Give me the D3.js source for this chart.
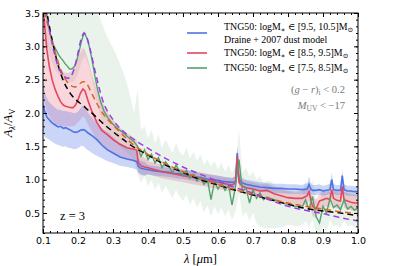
<!DOCTYPE html>
<html lang="en">
<head>
<meta charset="UTF-8">
<title>A_lambda / A_V at z=3</title>
<script src="https://cdn.jsdelivr.net/npm/d3@7/dist/d3.min.js"></script>
<style>
  body { margin: 0; background: #fff; }
  .tick text { font-family: "DejaVu Sans", sans-serif; font-size: 9.5px; fill: #000; }
  .tick line { stroke: #000; stroke-width: 1; }
  .serif { font-family: "Liberation Serif", "DejaVu Serif", serif; }
</style>
</head>
<body>
<svg width="399" height="266" id="mainsvg"></svg>
<script>
// ---- data ----
const xTicks = [0.1, 0.2, 0.3, 0.4, 0.5, 0.6, 0.7, 0.8, 0.9, 1.0];
const yTicks = [0.5, 1.0, 1.5, 2.0, 2.5, 3.0, 3.5];

// shared wavelength grid for the blue and red medians
const lamBR = [0.100, 0.105, 0.111, 0.118, 0.126, 0.135, 0.143, 0.150, 0.158, 0.165,
  0.172, 0.180, 0.186, 0.193, 0.200, 0.207, 0.214, 0.220, 0.229, 0.240,
  0.254, 0.268, 0.283, 0.300, 0.320, 0.340, 0.357, 0.368, 0.372, 0.380, 0.390,
  0.40, 0.42, 0.44, 0.46, 0.48, 0.50, 0.52, 0.54, 0.56, 0.58,
  0.60, 0.62, 0.64, 0.65, 0.655, 0.66, 0.67, 0.68, 0.70, 0.72,
  0.74, 0.76, 0.78, 0.80, 0.82, 0.84, 0.855, 0.86, 0.865, 0.87,
  0.88, 0.89, 0.90, 0.91, 0.92, 0.925, 0.93, 0.94, 0.95, 0.955,
  0.96, 0.97, 0.98, 0.99, 1.00];

// TNG50 logM* in [9.5,10.5]
const blueMid = [2.12, 2.02, 1.94, 1.90, 1.85, 1.82, 1.79, 1.80, 1.77, 1.78,
  1.76, 1.74, 1.72, 1.71, 1.72, 1.74, 1.75, 1.74, 1.70, 1.66,
  1.60, 1.52, 1.45, 1.40, 1.34, 1.31, 1.29, 1.27, 1.20, 1.17, 1.16,
  1.15, 1.13, 1.12, 1.11, 1.09, 1.08, 1.06, 1.04, 1.02, 1.00,
  0.99, 0.97, 0.96, 0.97, 1.40, 1.00, 0.95, 0.93, 0.91, 0.89,
  0.88, 0.87, 0.87, 0.86, 0.86, 0.85, 0.86, 0.93, 0.86, 0.84,
  0.84, 0.85, 0.83, 0.84, 0.85, 1.00, 0.85, 0.84, 0.84, 1.06,
  0.85, 0.83, 0.83, 0.82, 0.82];
const blueLo = [1.70, 1.64, 1.62, 1.60, 1.57, 1.54, 1.52, 1.51, 1.49, 1.50,
  1.48, 1.47, 1.46, 1.46, 1.47, 1.50, 1.51, 1.48, 1.44, 1.40,
  1.36, 1.32, 1.28, 1.25, 1.21, 1.19, 1.17, 1.15, 1.10, 1.07, 1.06,
  1.08, 1.06, 1.05, 1.04, 1.02, 1.01, 0.99, 0.97, 0.95, 0.93,
  0.92, 0.90, 0.89, 0.90, 1.25, 0.92, 0.88, 0.86, 0.84, 0.82,
  0.81, 0.80, 0.80, 0.79, 0.79, 0.78, 0.78, 0.82, 0.78, 0.77,
  0.77, 0.78, 0.76, 0.77, 0.78, 0.90, 0.78, 0.77, 0.77, 0.95,
  0.78, 0.76, 0.76, 0.75, 0.75];
const blueHi = [2.45, 2.32, 2.22, 2.16, 2.12, 2.08, 2.05, 2.05, 2.03, 2.03,
  2.02, 2.01, 2.00, 2.00, 2.02, 2.07, 2.11, 2.08, 2.00, 1.93,
  1.85, 1.78, 1.72, 1.64, 1.55, 1.49, 1.45, 1.42, 1.32, 1.28, 1.27,
  1.22, 1.20, 1.19, 1.18, 1.16, 1.15, 1.13, 1.11, 1.09, 1.07,
  1.06, 1.04, 1.03, 1.05, 1.50, 1.08, 1.02, 1.00, 0.98, 0.96,
  0.95, 0.94, 0.94, 0.93, 0.93, 0.92, 0.95, 1.05, 0.95, 0.92,
  0.92, 0.93, 0.91, 0.92, 0.94, 1.10, 0.93, 0.92, 0.92, 1.15,
  0.93, 0.91, 0.91, 0.90, 0.90];

// TNG50 logM* in [8.5,9.5]
const redMid = [3.60, 3.30, 2.95, 2.70, 2.50, 2.35, 2.25, 2.17, 2.12, 2.10,
  2.09, 2.08, 2.08, 2.12, 2.20, 2.30, 2.36, 2.33, 2.18, 2.02,
  1.86, 1.74, 1.68, 1.60, 1.53, 1.48, 1.46, 1.44, 1.26, 1.21, 1.19,
  1.18, 1.15, 1.12, 1.10, 1.08, 1.06, 1.04, 1.02, 1.00, 0.98,
  0.96, 0.94, 0.92, 0.95, 1.35, 0.96, 0.90, 0.88, 0.86, 0.83,
  0.84, 0.79, 0.76, 0.73, 0.72, 0.72, 0.76, 0.82, 0.70, 0.60,
  0.56, 0.68, 0.70, 0.72, 0.70, 0.85, 0.72, 0.69, 0.68, 0.90,
  0.70, 0.68, 0.66, 0.65, 0.65];
const redLo = [2.30, 2.15, 2.02, 1.95, 1.88, 1.84, 1.82, 1.82, 1.80, 1.80,
  1.80, 1.80, 1.80, 1.82, 1.86, 1.90, 1.95, 1.92, 1.82, 1.72,
  1.60, 1.52, 1.45, 1.40, 1.34, 1.30, 1.28, 1.26, 1.12, 1.08, 1.07,
  1.08, 1.05, 1.02, 1.00, 0.98, 0.96, 0.94, 0.92, 0.90, 0.88,
  0.86, 0.84, 0.82, 0.84, 1.20, 0.86, 0.80, 0.78, 0.76, 0.73,
  0.74, 0.69, 0.66, 0.63, 0.62, 0.61, 0.63, 0.68, 0.58, 0.46,
  0.42, 0.56, 0.58, 0.60, 0.58, 0.72, 0.60, 0.57, 0.56, 0.78,
  0.58, 0.56, 0.54, 0.53, 0.53];
const redHi = [3.70, 3.55, 3.40, 3.20, 3.00, 2.85, 2.75, 2.68, 2.62, 2.60,
  2.60, 2.62, 2.65, 2.72, 2.82, 2.92, 2.98, 2.95, 2.80, 2.58,
  2.35, 2.18, 2.02, 1.90, 1.78, 1.70, 1.64, 1.60, 1.45, 1.36, 1.33,
  1.28, 1.25, 1.22, 1.20, 1.18, 1.16, 1.14, 1.12, 1.10, 1.08,
  1.06, 1.04, 1.02, 1.06, 1.50, 1.06, 1.00, 0.98, 0.96, 0.93,
  0.94, 0.89, 0.86, 0.83, 0.82, 0.83, 0.90, 0.95, 0.82, 0.74,
  0.70, 0.80, 0.82, 0.84, 0.82, 0.98, 0.84, 0.81, 0.80, 1.02,
  0.82, 0.80, 0.78, 0.77, 0.77];

// TNG50 logM* in [7.5,8.5]
const lamG = [0.100, 0.106, 0.112, 0.118, 0.124, 0.130, 0.137, 0.144, 0.150, 0.157,
  0.163, 0.170, 0.176, 0.183, 0.190, 0.196, 0.203, 0.210, 0.2175, 0.225,
  0.232, 0.240, 0.248, 0.256, 0.265, 0.275, 0.285, 0.300, 0.315, 0.330,
  0.345, 0.360,
  0.37, 0.38, 0.39, 0.40, 0.41, 0.42, 0.43, 0.44, 0.45, 0.46,
  0.47, 0.48, 0.49, 0.50, 0.51, 0.52, 0.53, 0.54, 0.55, 0.56,
  0.57, 0.58, 0.59, 0.60, 0.61, 0.62, 0.63, 0.64, 0.65, 0.66,
  0.67, 0.68, 0.69, 0.70, 0.71, 0.72, 0.73, 0.74, 0.75, 0.76,
  0.77, 0.78, 0.79, 0.80, 0.81, 0.82, 0.83, 0.84, 0.85, 0.86,
  0.87, 0.88, 0.89, 0.90, 0.91, 0.92, 0.93, 0.94, 0.95, 0.96,
  0.97, 0.98, 0.99, 1.00];
const greenMid = [3.85, 3.62, 3.42, 3.25, 3.12, 3.02, 2.95, 2.88, 2.83, 2.79,
  2.74, 2.70, 2.66, 2.66, 2.70, 2.78, 2.92, 3.08, 3.20, 3.13,
  3.00, 2.80, 2.56, 2.35, 2.16, 2.02, 1.93, 1.83, 1.76, 1.70,
  1.63, 1.57,
  1.50, 1.35, 1.45, 1.30, 1.38, 1.25, 1.33, 1.18, 1.27, 1.20,
  1.10, 1.22, 1.12, 1.06, 1.14, 1.02, 1.08, 0.98, 1.04, 0.93,
  1.00, 0.70, 0.97, 0.86, 0.95, 0.84, 0.92, 0.62, 0.90, 1.30,
  0.82, 0.88, 0.65, 0.85, 0.72, 0.80, 0.70, 0.74, 0.72, 0.70,
  0.68, 0.66, 0.64, 0.63, 0.62, 0.60, 0.60, 0.58, 0.70, 0.55,
  0.75, 0.45, 0.35, 0.60, 0.50, 0.72, 0.58, 0.62, 0.55, 0.70,
  0.56, 0.60, 0.54, 0.58];
const greenLo = [3.30, 3.15, 3.00, 2.88, 2.78, 2.70, 2.63, 2.58, 2.55, 2.52,
  2.50, 2.48, 2.46, 2.46, 2.48, 2.54, 2.64, 2.76, 2.85, 2.80,
  2.68, 2.50, 2.30, 2.10, 1.93, 1.80, 1.70, 1.60, 1.52, 1.45,
  1.38, 1.30,
  1.10, 0.95, 1.05, 0.90, 1.00, 0.85, 0.95, 0.80, 0.90, 0.82,
  0.72, 0.85, 0.75, 0.68, 0.78, 0.62, 0.72, 0.58, 0.68, 0.50,
  0.62, 0.45, 0.60, 0.48, 0.58, 0.45, 0.55, 0.40, 0.52, 0.80,
  0.45, 0.52, 0.38, 0.50, 0.35, 0.30, 0.28, 0.27, 0.27, 0.27,
  0.28, 0.28, 0.30, 0.32, 0.32, 0.30, 0.30, 0.32, 0.38, 0.28,
  0.40, 0.20, 0.15, 0.30, 0.22, 0.40, 0.30, 0.32, 0.28, 0.38,
  0.30, 0.32, 0.28, 0.30];
const greenHi = [3.90, 3.90, 3.90, 3.90, 3.90, 3.90, 3.90, 3.90, 3.90, 3.90,
  3.90, 3.90, 3.90, 3.90, 3.90, 3.90, 3.90, 3.90, 3.90, 3.90,
  3.90, 3.90, 3.70, 3.50, 3.40, 3.25, 3.12, 2.98, 2.80, 2.60,
  2.35, 2.00,
  2.35, 1.75, 1.80, 1.62, 1.75, 1.55, 1.68, 1.48, 1.60, 1.50,
  1.40, 1.55, 1.42, 1.36, 1.48, 1.32, 1.42, 1.28, 1.38, 1.22,
  1.30, 1.20, 1.28, 1.15, 1.26, 1.12, 1.22, 1.10, 1.20, 1.75,
  1.10, 1.18, 1.05, 1.12, 1.00, 1.05, 0.95, 0.98, 0.98, 0.92,
  0.88, 0.86, 0.84, 0.83, 0.82, 0.80, 0.80, 0.78, 0.98, 0.80,
  1.00, 0.72, 0.62, 0.88, 0.76, 1.00, 0.82, 0.86, 0.80, 0.98,
  0.80, 0.84, 0.78, 0.82];

// model / fit curves
const lamFit = [0.100, 0.110, 0.120, 0.130, 0.140, 0.150, 0.160, 0.170, 0.180, 0.190,
  0.200, 0.2075, 0.2175, 0.225, 0.235, 0.250, 0.270, 0.300, 0.330, 0.350,
  0.400, 0.450, 0.500, 0.550, 0.600, 0.650, 0.700, 0.750, 0.800, 0.850,
  0.900, 0.950, 1.000];
const draine = [3.90, 3.55, 3.25, 3.00, 2.78, 2.60, 2.46, 2.36, 2.28, 2.22,
  2.17, 2.14, 2.10, 2.06, 2.02, 1.95, 1.85, 1.72, 1.60, 1.52,
  1.37, 1.22, 1.11, 1.00, 0.92, 0.84, 0.77, 0.70, 0.63, 0.57,
  0.53, 0.50, 0.46];
const fitRed = [3.60, 3.40, 3.20, 3.00, 2.82, 2.66, 2.54, 2.46, 2.41, 2.39,
  2.41, 2.45, 2.47, 2.44, 2.34, 2.18, 2.00, 1.82, 1.66, 1.56,
  1.38, 1.24, 1.12, 1.02, 0.93, 0.85, 0.78, 0.71, 0.65, 0.60,
  0.56, 0.52, 0.49];
const fitGreen = [3.85, 3.50, 3.20, 2.95, 2.75, 2.62, 2.55, 2.52, 2.55, 2.68,
  2.90, 3.08, 3.20, 3.14, 2.95, 2.60, 2.20, 1.90, 1.72, 1.64,
  1.47, 1.32, 1.19, 1.08, 0.98, 0.88, 0.80, 0.69, 0.60, 0.54,
  0.49, 0.43, 0.38];

const legendLabels = [
  'TNG50: logM∗ ∈ [9.5, 10.5]M⊙',
  'Draine + 2007 dust model',
  'TNG50: logM∗ ∈ [8.5, 9.5]M⊙',
  'TNG50: logM∗ ∈ [7.5, 8.5]M⊙'
];

// ---- layout ----
const svg = d3.select('#mainsvg');
const W = 399, H = 266;
const pLeft = 43, pRight = 358, pTop = 13, pBottom = 233;
const x = d3.scaleLinear().domain([0.1, 1.0]).range([pLeft, pRight]);
const y = d3.scaleLinear().domain([0.2, 3.5]).range([pBottom, pTop]);

const cBlue = '#4f73e3', cRed = '#e4465f', cGreen = '#559f70';

svg.append('clipPath').attr('id', 'plotclip')
  .append('rect')
  .attr('x', pLeft).attr('y', pTop)
  .attr('width', pRight - pLeft).attr('height', pBottom - pTop);

const plot = svg.append('g').attr('clip-path', 'url(#plotclip)');

function band(lam, lo, hi) {
  return d3.area()
    .x((d, i) => x(lam[i]))
    .y0((d, i) => y(lo[i]))
    .y1((d, i) => y(hi[i]))(lam);
}
function curve(lam, v) {
  return d3.line().x((d, i) => x(lam[i])).y((d, i) => y(v[i]))(lam);
}
function smooth(lam, v) {
  return d3.line().curve(d3.curveMonotoneX).x((d, i) => x(lam[i])).y((d, i) => y(v[i]))(lam);
}

// bands
plot.append('path').attr('d', band(lamG, greenLo, greenHi))
  .attr('fill', cGreen).attr('fill-opacity', 0.13);
plot.append('path').attr('d', band(lamBR, redLo, redHi))
  .attr('fill', cRed).attr('fill-opacity', 0.22);
plot.append('path').attr('d', band(lamBR, blueLo, blueHi))
  .attr('fill', cBlue).attr('fill-opacity', 0.3);

// medians
plot.append('path').attr('d', curve(lamBR, blueMid))
  .attr('fill', 'none').attr('stroke', cBlue).attr('stroke-width', 1.6);
plot.append('path').attr('d', curve(lamBR, redMid))
  .attr('fill', 'none').attr('stroke', cRed).attr('stroke-width', 1.6);
plot.append('path').attr('d', curve(lamG, greenMid))
  .attr('fill', 'none').attr('stroke', cGreen).attr('stroke-width', 1.4);

// dashed model curves
plot.append('path').attr('d', smooth(lamFit, draine))
  .attr('fill', 'none').attr('stroke', '#000').attr('stroke-width', 1.5)
  .attr('stroke-dasharray', '6,4');
plot.append('path').attr('d', smooth(lamFit, fitRed))
  .attr('fill', 'none').attr('stroke', '#d8661c').attr('stroke-width', 1.5)
  .attr('stroke-dasharray', '6,4').attr('stroke-dashoffset', 5);
plot.append('path').attr('d', smooth(lamFit, fitGreen))
  .attr('fill', 'none').attr('stroke', '#a03ce6').attr('stroke-width', 1.5)
  .attr('stroke-dasharray', '6,4');

// ---- axes, ticks inward on all sides ----
const xMinor = d3.range(0.1, 1.0001, 0.02);
const yMinor = d3.range(0.2, 3.5001, 0.1);
const fmt = d3.format('.1f');

function addAxis(axis, tx, ty) {
  const g = svg.append('g').attr('transform', `translate(${tx},${ty})`).call(axis);
  g.select('.domain').remove();
  return g;
}
addAxis(d3.axisBottom(x).tickValues(xTicks).tickSize(-4).tickPadding(4).tickFormat(fmt), 0, pBottom);
addAxis(d3.axisBottom(x).tickValues(xMinor).tickSize(-2).tickFormat(''), 0, pBottom);
addAxis(d3.axisTop(x).tickValues(xTicks).tickSize(-4).tickFormat(''), 0, pTop);
addAxis(d3.axisTop(x).tickValues(xMinor).tickSize(-2).tickFormat(''), 0, pTop);
addAxis(d3.axisLeft(y).tickValues(yTicks).tickSize(-4).tickPadding(3).tickFormat(fmt), pLeft, 0);
addAxis(d3.axisLeft(y).tickValues(yMinor).tickSize(-2).tickFormat(''), pLeft, 0);
addAxis(d3.axisRight(y).tickValues(yTicks).tickSize(-4).tickFormat(''), pRight, 0);
addAxis(d3.axisRight(y).tickValues(yMinor).tickSize(-2).tickFormat(''), pRight, 0);

svg.append('rect').attr('x', pLeft).attr('y', pTop)
  .attr('width', pRight - pLeft).attr('height', pBottom - pTop)
  .attr('fill', 'none').attr('stroke', '#000').attr('stroke-width', 1);

// ---- axis titles ----
const xl = svg.append('text').attr('class', 'serif')
  .attr('x', (pLeft + pRight) / 2).attr('y', 263).attr('text-anchor', 'middle')
  .attr('font-size', 12.5);
xl.append('tspan').attr('font-style', 'italic').text('λ');
xl.append('tspan').text(' [');
xl.append('tspan').attr('font-style', 'italic').text('μ');
xl.append('tspan').text('m]');

const yl = svg.append('text').attr('class', 'serif')
  .attr('transform', `translate(12,${(pTop + pBottom) / 2}) rotate(-90)`)
  .attr('text-anchor', 'middle').attr('font-size', 12.5);
yl.append('tspan').attr('font-style', 'italic').text('A');
yl.append('tspan').attr('font-size', 8.5).attr('dy', 3).attr('font-style', 'italic').text('λ');
yl.append('tspan').attr('dy', -3).text('/');
yl.append('tspan').attr('font-style', 'italic').text('A');
yl.append('tspan').attr('font-size', 8.5).attr('dy', 3).text('V');

// ---- legend ----
const legColors = [cBlue, null, cRed, cGreen];
const legLineY = [33, null, 53, 68];
const legTextY = [30, 43, 56, 71];
legendLabels.forEach((lab, i) => {
  if (legColors[i]) {
    svg.append('line').attr('x1', 187).attr('x2', 207)
      .attr('y1', legLineY[i]).attr('y2', legLineY[i])
      .attr('stroke', legColors[i]).attr('stroke-width', 1.6);
  }
  const t = svg.append('text').attr('class', 'serif')
    .attr('x', 224).attr('y', legTextY[i]).attr('font-size', 9.9);
  const m = lab.match(/^(TNG50: logM)∗( ∈ \[[^\]]+\]M)⊙$/);
  if (m) {
    t.append('tspan').text(m[1]);
    t.append('tspan').attr('font-size', 6.8).attr('dy', 2).text('∗');
    t.append('tspan').attr('dy', -2).text(m[2]);
    t.append('tspan').attr('font-size', 6.8).attr('dy', 2).text('⊙');
  } else {
    t.text(lab);
  }
});

// selection notes
const n1 = svg.append('text').attr('class', 'serif').attr('x', 345).attr('y', 93)
  .attr('text-anchor', 'end').attr('font-size', 10.5).attr('fill', '#7a7a7a');
n1.append('tspan').text('(');
n1.append('tspan').attr('font-style', 'italic').text('g');
n1.append('tspan').text(' − ');
n1.append('tspan').attr('font-style', 'italic').text('r');
n1.append('tspan').text(')');
n1.append('tspan').attr('font-size', 7.5).attr('dy', 2).text('i');
n1.append('tspan').attr('dy', -2).text(' < 0.2');

const n2 = svg.append('text').attr('class', 'serif').attr('x', 345).attr('y', 109)
  .attr('text-anchor', 'end').attr('font-size', 10.5).attr('fill', '#7a7a7a');
n2.append('tspan').attr('font-style', 'italic').text('M');
n2.append('tspan').attr('font-size', 7.5).attr('dy', 2).text('UV');
n2.append('tspan').attr('dy', -2).text(' < −17');

svg.append('text').attr('class', 'serif').attr('x', 60).attr('y', 220)
  .attr('font-size', 12.5).text('z = 3');
</script>
</body>
</html>
